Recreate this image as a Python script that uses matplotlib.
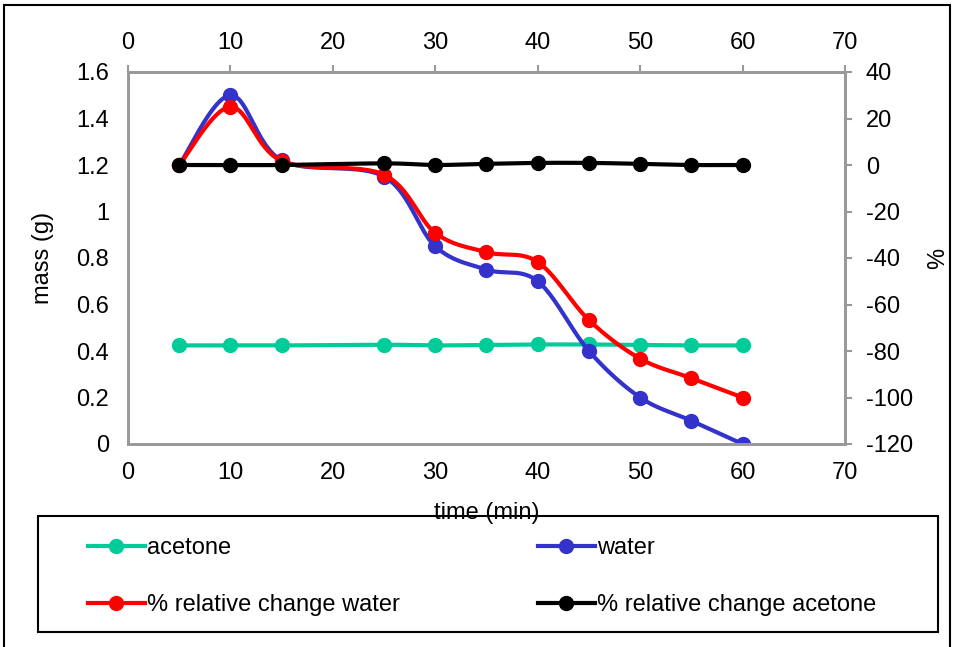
import numpy as np
import matplotlib
matplotlib.use("Agg")
import matplotlib.pyplot as plt
from matplotlib.lines import Line2D
from matplotlib.patches import Rectangle

plt.rcParams['font.family'] = ['Liberation Sans', 'DejaVu Sans']
plt.rcParams['axes.unicode_minus'] = False

# data
time_min = [5, 10, 15, 25, 30, 35, 40, 45, 50, 55, 60]
acetone = [0.424, 0.424, 0.424, 0.427, 0.424, 0.426, 0.428, 0.428, 0.426, 0.424, 0.424]
water = [1.2, 1.5, 1.22, 1.15, 0.85, 0.75, 0.70, 0.40, 0.20, 0.10, 0.0]
pct_water = [0, 25, 1.7, -4.2, -29.2, -37.5, -41.7, -66.7, -83.3, -91.7, -100]
pct_acetone = [0, 0, 0, 0.7, 0, 0.5, 0.9, 0.9, 0.5, 0, 0]

x_ticks = [0, 10, 20, 30, 40, 50, 60, 70]
left_ticks = [0, 0.2, 0.4, 0.6, 0.8, 1, 1.2, 1.4, 1.6]
left_labels = ['0', '0.2', '0.4', '0.6', '0.8', '1', '1.2', '1.4', '1.6']
right_ticks = [-120, -100, -80, -60, -40, -20, 0, 20, 40]


def smooth(x, y, n=25):
    # excel style smoothed line (bezier through the points)
    pts = np.column_stack([x, y]).astype(float)
    P = np.vstack([pts[0], pts, pts[-1]])
    t = np.linspace(0, 1, n)[:, None]
    segs = []
    for i in range(1, len(P) - 2):
        p0, p1, p2, p3 = P[i - 1], P[i], P[i + 1], P[i + 2]
        c1 = p1 + (p2 - p0) / 6
        c2 = p2 - (p3 - p1) / 6
        segs.append((1 - t) ** 3 * p1 + 3 * (1 - t) ** 2 * t * c1
                    + 3 * (1 - t) * t ** 2 * c2 + t ** 3 * p2)
    s = np.vstack(segs)
    return s[:, 0], s[:, 1]


fs = 17
lw = 3.0
ms = 10
spine_c = '#999999'
W, H = 954, 647

fig = plt.figure(figsize=(9.54, 6.47), dpi=100)
ax = fig.add_axes([128 / W, 1 - 444 / H, 717 / W, 372 / H])
ax2 = ax.twinx()

series = [
    (ax, acetone, '#00cc99', 'acetone'),
    (ax, water, '#3333cc', 'water'),
    (ax2, pct_water, '#ff0000', '% relative change water'),
    (ax2, pct_acetone, '#000000', '% relative change acetone'),
]
handles = {}
for a, vals, c, lab in series:
    sx, sy = smooth(time_min, vals)
    a.plot(sx, sy, color=c, lw=lw, solid_capstyle='round')
    a.plot(time_min, vals, 'o', color=c, ms=ms)
    handles[lab] = Line2D([], [], color=c, lw=lw, marker='o', ms=ms)

ax.set_xlim(0, 70)
ax.set_ylim(0, 1.6)
ax2.set_ylim(-120, 40)
ax.set_xticks(x_ticks)
ax.set_yticks(left_ticks)
ax.set_yticklabels(left_labels)
ax2.set_yticks(right_ticks)

ax.tick_params(axis='x', top=True, labeltop=True, bottom=False, labelbottom=True,
               labelsize=fs, color=spine_c, length=5, width=1.5, direction='out', pad=8)
ax.tick_params(axis='y', left=False, labelsize=fs, pad=10)
ax2.tick_params(axis='y', labelsize=fs, color=spine_c, length=5, width=1.5, pad=10)

for a in (ax, ax2):
    for sp in a.spines.values():
        sp.set_color(spine_c)
        sp.set_linewidth(2)

ax.set_xlabel('time (min)', fontsize=fs, labelpad=13)
ax.set_ylabel('mass (g)', fontsize=fs, labelpad=16)
ax2.set_ylabel('%', fontsize=fs, labelpad=10)

# legend box
fig.patches.append(Rectangle((38 / W, 1 - 632 / H), 900 / W, 116 / H, transform=fig.transFigure,
                             fill=False, edgecolor='black', lw=1.5, zorder=0))
order = ['acetone', '% relative change water', 'water', '% relative change acetone']
leg = fig.legend([handles[k] for k in order], order, loc='upper left',
                 bbox_to_anchor=(88 / W, 1 - 537 / H), ncol=2, fontsize=fs,
                 frameon=False, borderpad=0, borderaxespad=0, handlelength=2.4,
                 handletextpad=0.1, labelspacing=1.5, columnspacing=5.85)

# outer border
fig.patches.append(Rectangle((0.004, -0.05), 0.992, 1.042, transform=fig.transFigure,
                             fill=False, edgecolor='black', lw=1.5))

fig.savefig('out.png', dpi=100)
